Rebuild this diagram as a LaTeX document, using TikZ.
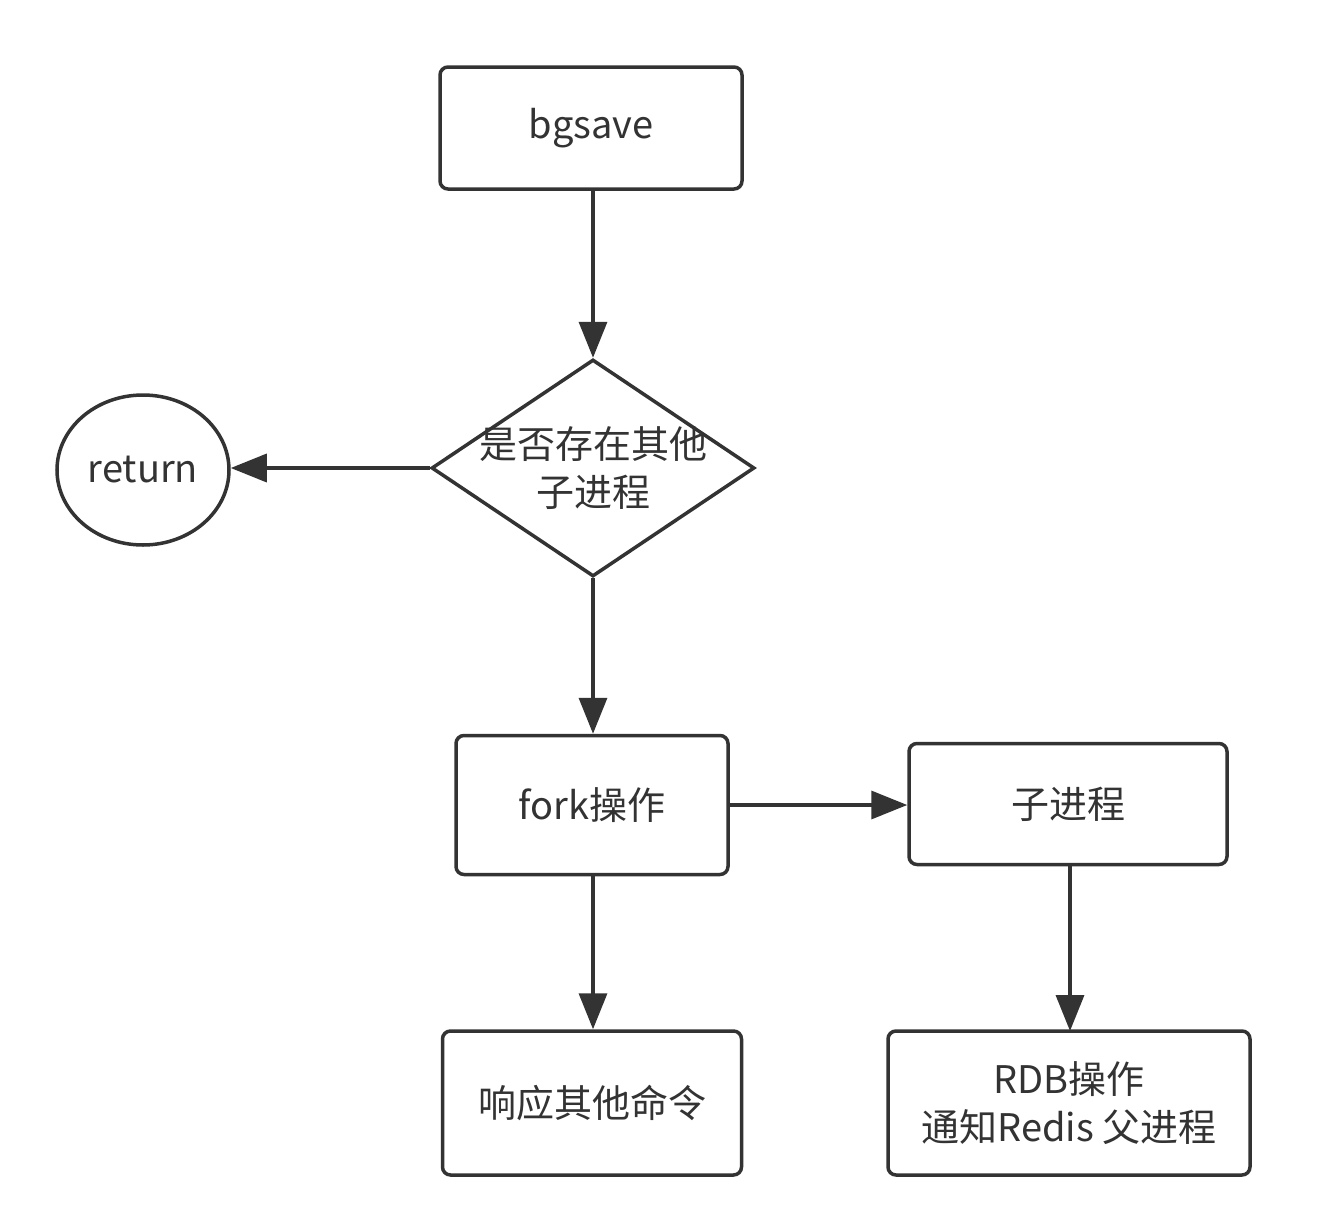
\documentclass[tikz,border=0pt]{standalone}
\usepackage{fontspec}
\setmainfont{Noto Sans CJK SC}
\usetikzlibrary{shapes.geometric,arrows.meta}
\definecolor{ink}{HTML}{333333}
\tikzset{
  box/.style={draw=ink, line width=3.5pt, rounded corners=8pt, inner sep=0pt, fill=white},
  lbl/.style={text=ink, font=\fontsize{38pt}{48pt}\selectfont, align=center},
  conn/.style={draw=ink, line width=3.5pt, -{Triangle[length=36pt,width=28pt]}}
}
\begin{document}
\begin{tikzpicture}[x=1pt,y=-1pt]
\useasboundingbox[fill=white] (0,0) rectangle (1326,1226);
\node[box, minimum width=302pt, minimum height=122pt] (bg) at (591,128) {};
\node[lbl] at (bg.center) {bgsave};
\node[diamond, draw=ink, line width=3.5pt, minimum width=323pt, minimum height=217pt, inner sep=0pt] (d) at (593,468) {};
\node[lbl] at (d.center) {是否存在其他\\子进程};
\node[ellipse, draw=ink, line width=3.5pt, minimum width=172pt, minimum height=150pt, inner sep=0pt] (ret) at (143,470) {};
\node[lbl] at (ret.center) {return};
\node[box, minimum width=272pt, minimum height=139pt] (fork) at (592,805) {};
\node[lbl] at (fork.center) {fork操作};
\node[box, minimum width=318pt, minimum height=121pt] (child) at (1068,804) {};
\node[lbl] at (child.center) {子进程};
\node[box, minimum width=299pt, minimum height=144pt] (resp) at (592,1103) {};
\node[lbl] at (resp.center) {响应其他命令};
\node[box, minimum width=362pt, minimum height=144pt] (rdb) at (1069,1103) {};
\node[lbl] at (rdb.center) {RDB操作\\通知Redis 父进程};
\draw[conn] (bg.south -| d.north) -- (d.north);
\draw[conn] (d.west) -- (d.west -| ret.east);
\draw[conn] (d.south) -- (d.south |- fork.north);
\draw[conn] (fork.east) -- (fork.east -| child.west);
\draw[conn] (fork.south -| d.south) -- (d.south |- resp.north);
\coordinate (cs) at (1070,864);
\coordinate (rt) at (1070,1031);
\draw[conn] (cs) -- (rt);
\end{tikzpicture}
\end{document}
